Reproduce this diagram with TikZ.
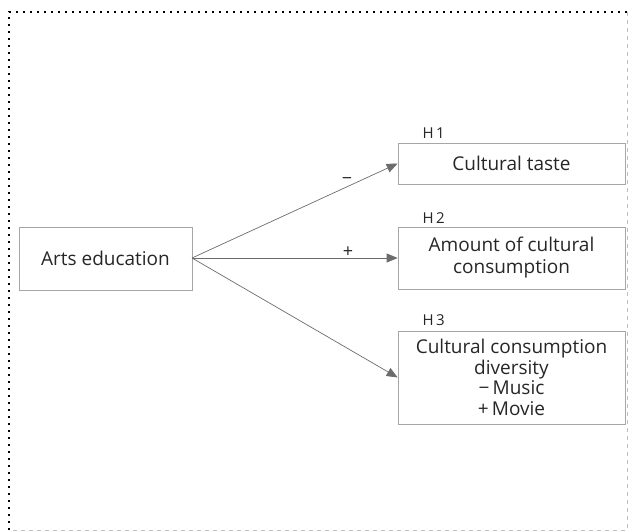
\documentclass[tikz,border=0pt]{standalone}
\usepackage{fontspec}
\setmainfont{Open Sans}
\usetikzlibrary{arrows.meta}
\begin{document}
\begin{tikzpicture}[x=1pt,y=1pt,
  box/.style={draw=gray!70,line width=0.7pt,align=center,inner sep=0pt,text=black!85,font=\fontsize{19}{22}\selectfont},
  conn/.style={draw=gray!85!black,line width=0.7pt,-{Triangle[length=11pt,width=9pt]}},
  lab/.style={text=black!85,font=\fontsize{15}{17}\selectfont},
  sign/.style={text=black!85,font=\fontsize{18}{20}\selectfont}]
\useasboundingbox (0,0) rectangle (632,531);
\draw[black,line width=1.6pt,dash pattern=on 2pt off 5pt] (9,1) -- (9,519) -- (627,519);
\draw[gray!50,line width=0.8pt,dash pattern=on 4pt off 4pt] (627,519) -- (627,1) -- (9,1);
\node[box,minimum width=173pt,minimum height=63pt] (arts) at (105.5,272.5) {Arts education};
\node[box,minimum width=227pt,minimum height=41pt] (taste) at (511.5,367.5) {Cultural taste};
\node[box,minimum width=227pt,minimum height=62pt] (amount) at (511.5,273) {Amount of cultural\\consumption};
\node[box,minimum width=227pt,minimum height=93pt,font=\fontsize{19}{20.5}\selectfont] (div) at (511.5,153.5) {Cultural consumption\\diversity\\\textminus\,Music\\+\,Movie};
\node[lab,anchor=west] (h1) at (419,398) {H\,1};
\node[lab,anchor=west] (h2) at (419,313) {H\,2};
\node[lab,anchor=west] (h3) at (419,211) {H\,3};
\coordinate (src) at (192,273);
\draw[conn] (src) -- (taste.west);
\draw[conn] (src) -- (amount.west);
\draw[conn] (src) -- (div.west);
\node[sign] (m1) at (347,350) {\textminus};
\node[sign] (p1) at (348,279) {+};
\end{tikzpicture}
\end{document}
